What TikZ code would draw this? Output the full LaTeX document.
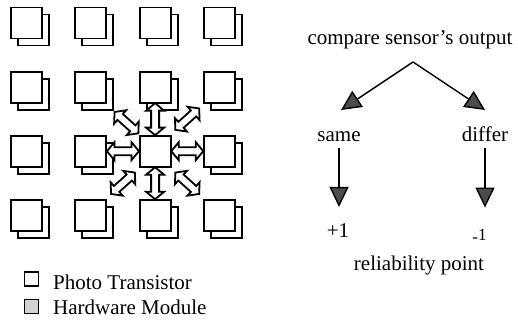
\documentclass[tikz,border=0pt]{standalone}
\usepackage{fontspec}
\setmainfont{Liberation Serif}
\usetikzlibrary{arrows.meta,calc}

\tikzset{
  label text/.style={font=\fontsize{21}{25}\selectfont, inner sep=0pt},
  cell/.style={draw, line width=1.9pt, fill=white, minimum size=31pt, inner sep=0pt},
  keybox/.style={draw, line width=1.6pt, fill=white, minimum size=14pt, inner sep=0pt},
  flow/.style={line width=1.4pt, -{Triangle[length=20pt, width=19pt, fill=black!70]}},
  twoway/.pic={
    \draw[line width=1.8pt, fill=white, line join=miter]
      (-16,0) -- (-8.5,-9) -- (-8.5,-4) -- (8.5,-4) -- (8.5,-9) -- (16,0)
      -- (8.5,9) -- (8.5,4) -- (-8.5,4) -- (-8.5,9) -- cycle;
  }
}

\begin{document}
\begin{tikzpicture}[x=1pt, y=-1pt]
\useasboundingbox (0,0) rectangle (518,320);

% 4x4 array of sensors: each photo transistor is a pair of stacked squares,
% the middle one of the third row is the hardware module
\foreach \i in {0,1,2,3}{
  \foreach \j in {0,1,2,3}{
    \pgfmathsetmacro\cx{26.5+64.3*\i}
    \pgfmathsetmacro\cy{23+64.1*\j}
    \ifnum\i\j=22\relax
      \node[cell] (c\i\j) at (\cx,\cy) {};
    \else
      \node[cell] (b\i\j) at (\cx+7,\cy+7) {};
      \node[cell] (c\i\j) at (\cx,\cy) {};
    \fi
  }
}

% two-way links between the module and its eight neighbours
\pic[rotate=90]  at ($(c22)!0.5!(c21)$) {twoway};
\pic[rotate=90]  at ($(c22)!0.5!(c23)$) {twoway};
\pic             at ($(c22)!0.5!(c12)$) {twoway};
\pic             at ($(c22)!0.5!(c32)$) {twoway};
\pic[rotate=-42] at ($(c22)!0.5!(b11)$) {twoway};
\pic[rotate=42]  at ($(c22)!0.5!(c31)$) {twoway};
\pic[rotate=42]  at ($(c22)!0.5!(c13)$) {twoway};
\pic[rotate=-42] at ($(c22)!0.5!(c33)$) {twoway};

% legend
\node[keybox] (k1) at (31.5,279) {};
\node[keybox, fill=gray!35] (k2) at (31.5,306.5) {};
\node[label text, anchor=base west] (t1) at (53,289) {Photo Transistor};
\node[label text, anchor=base west] (t2) at (53,314) {Hardware Module};

% comparison of sensor outputs
\node[label text, anchor=base] (cmp) at (410,45) {compare sensor’s output};
\coordinate (apex) at (413,62);
\coordinate (tipL) at (341,110);
\coordinate (tipR) at (485,110);
\draw[flow] (apex) -- (tipL);
\draw[flow] (apex) -- (tipR);

\node[label text, anchor=base] (same) at (339,142) {same};
\node[label text, anchor=base] (differ) at (485,142) {differ};
\node[label text, anchor=base] (plus) at (338,237) {+1};
\node[label text, anchor=base, font=\fontsize{17}{20}\selectfont] (minus) at (479.5,240) {\raisebox{-2.5pt}{-}1};
\node[label text, anchor=base] (rel) at (419,270) {reliability point};

\draw[flow, -{Triangle[length=20pt, width=19pt, fill=black!70]}]
  ([yshift=-6pt]same.base) -- ([yshift=16pt]same.base |- plus.north);
\draw[flow, -{Triangle[length=20pt, width=19pt, fill=black!70]}]
  ([yshift=-6pt]differ.base) -- ([yshift=21pt]differ.base |- minus.north);
\end{tikzpicture}
\end{document}
